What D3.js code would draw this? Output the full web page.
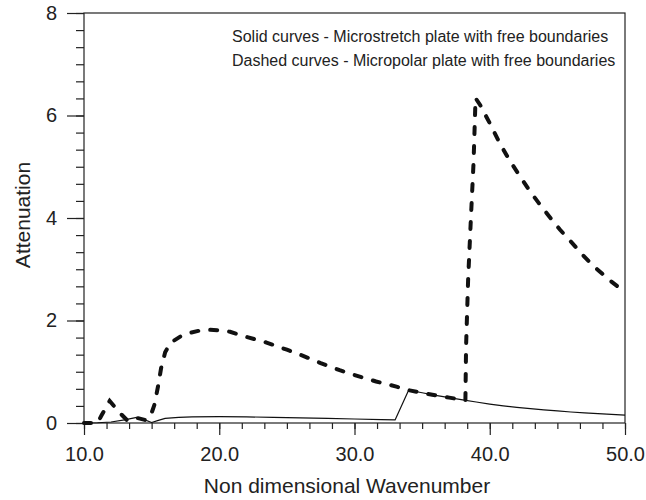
<!DOCTYPE html>
<html>
<head>
<meta charset="utf-8">
<script src="https://cdn.jsdelivr.net/npm/d3@7"></script>
<style>
  html, body { margin: 0; padding: 0; background: #fff; }
  svg { display: block; font-family: "Liberation Sans", Arial, sans-serif; }
</style>
</head>
<body>
<svg id="chart" width="646" height="500"></svg>
<script>
// Microstretch plate with free boundaries (solid curve)
const microstretchK = [10, 11, 12, 13, 13.9, 14.4, 15, 15.5, 16, 17, 18, 20, 22, 24, 26, 28, 30, 32, 33,
  34, 35, 36, 37, 38, 39, 40, 41, 42, 43, 44, 45, 46, 47, 48, 49, 50];
const microstretchAtt = [0, 0.005, 0.02, 0.06, 0.11, 0.07, 0.01, 0.05, 0.09, 0.11, 0.12, 0.125, 0.12, 0.11, 0.1, 0.09, 0.078, 0.066, 0.06,
  0.64, 0.59, 0.54, 0.495, 0.45, 0.41, 0.37, 0.335, 0.305, 0.28, 0.255, 0.235, 0.215, 0.198, 0.183, 0.168, 0.155];

// Micropolar plate with free boundaries (dashed curve)
const micropolarK = [10, 11, 11.3, 11.9, 12.6, 13.2, 13.9, 14.5, 14.9, 15.2, 15.5, 15.7, 16.0, 16.3, 16.6, 17.2, 17.7, 18.5, 19.2, 20, 20.8,
  22, 23.5, 25, 26.2, 27.5, 28.9, 30.2, 31.6, 33.1, 34, 35, 36, 37, 38.2,
  38.25, 38.4, 38.6, 38.8, 38.95, 39.3, 40, 40.7, 41.45, 42.2, 42.9, 43.6, 44.4, 45.2, 46.1, 46.8, 47.6, 48.8, 50];
const micropolarAtt = [0, 0, 0.15, 0.43, 0.21, 0.05, 0.1, 0.06, 0.12, 0.35, 0.75, 1.07, 1.38, 1.52, 1.6, 1.7, 1.75, 1.8, 1.82, 1.81, 1.78,
  1.68, 1.57, 1.43, 1.31, 1.17, 1.03, 0.92, 0.81, 0.71, 0.64, 0.59, 0.54, 0.495, 0.445,
  1.5, 2.79, 3.96, 5.07, 6.34, 6.2, 5.85, 5.48, 5.13, 4.83, 4.55, 4.3, 4.03, 3.77, 3.51, 3.3, 3.08, 2.8, 2.55];

// Axis ticks
const xMajorTicks = [10, 20, 30, 40, 50];
const xTickLabels = ["10.0", "20.0", "30.0", "40.0", "50.0"];
const yMajorTicks = [0, 2, 4, 6, 8];
const yTickLabels = ["0", "2", "4", "6", "8"];

const legendLines = [
  "Solid curves - Microstretch plate with free boundaries",
  "Dashed curves - Micropolar plate with free boundaries"
];

const svg = d3.select("#chart");
const margin = { left: 84, right: 21, top: 13, bottom: 77 };
const W = 646, H = 500;
const x = d3.scaleLinear().domain([10, 50]).range([margin.left, W - margin.right]);
const y = d3.scaleLinear().domain([0, 8]).range([H - margin.bottom, margin.top]);

const ink = "#222";

// Minor ticks
const xMinor = d3.range(0, 25).map(i => 10 + i * 10 / 6);
const yMinor = d3.range(0, 25).map(i => i / 3);

const xMinorAxis = svg.append("g")
  .attr("transform", `translate(0,${y(0)})`)
  .call(d3.axisBottom(x).tickValues(xMinor).tickSize(6).tickFormat(""));
const yMinorAxis = svg.append("g")
  .attr("transform", `translate(${x(10)},0)`)
  .call(d3.axisLeft(y).tickValues(yMinor).tickSize(8).tickFormat(""));

// Major ticks with labels
const xAxis = svg.append("g")
  .attr("transform", `translate(0,${y(0)})`)
  .call(d3.axisBottom(x).tickValues(xMajorTicks).tickSize(12).tickPadding(12)
    .tickFormat((d, i) => xTickLabels[i]));
const yAxis = svg.append("g")
  .attr("transform", `translate(${x(10)},0)`)
  .call(d3.axisLeft(y).tickValues(yMajorTicks).tickSize(17).tickPadding(10)
    .tickFormat((d, i) => yTickLabels[i]));

[xMinorAxis, yMinorAxis, xAxis, yAxis].forEach(g => {
  g.select(".domain").remove();
  g.selectAll("line").attr("stroke", ink).attr("stroke-width", 1.2);
  g.selectAll("text").attr("fill", ink).style("font-size", "20px")
    .style("font-family", "\"Liberation Sans\", Arial, sans-serif");
});

// Frame around the plot
svg.append("rect")
  .attr("x", x(10)).attr("y", y(8))
  .attr("width", x(50) - x(10)).attr("height", y(0) - y(8))
  .attr("fill", "none").attr("stroke", ink).attr("stroke-width", 1.2);

// Curves
const line = d3.line().x(d => x(d[0])).y(d => y(d[1])).curve(d3.curveLinear);

svg.append("path")
  .datum(micropolarK.map((k, i) => [k, micropolarAtt[i]]))
  .attr("d", line)
  .attr("fill", "none").attr("stroke", "#111")
  .attr("stroke-width", 4).attr("stroke-linecap", "round")
  .attr("stroke-dasharray", "7,12");

svg.append("path")
  .datum(microstretchK.map((k, i) => [k, microstretchAtt[i]]))
  .attr("d", line)
  .attr("fill", "none").attr("stroke", "#111")
  .attr("stroke-width", 1.2).attr("stroke-linejoin", "round");

// Legend text
svg.append("g").selectAll("text")
  .data(legendLines)
  .join("text")
  .attr("x", 232)
  .attr("y", (d, i) => 42 + i * 23.5)
  .attr("fill", ink)
  .style("font-size", "16px")
  .text(d => d);

// Axis titles
svg.append("text")
  .attr("x", 347).attr("y", 493)
  .attr("text-anchor", "middle").attr("fill", ink)
  .style("font-size", "21px")
  .text("Non dimensional Wavenumber");

svg.append("text")
  .attr("transform", `translate(30,215) rotate(-90)`)
  .attr("text-anchor", "middle").attr("fill", ink)
  .style("font-size", "21px")
  .text("Attenuation");
</script>
</body>
</html>
